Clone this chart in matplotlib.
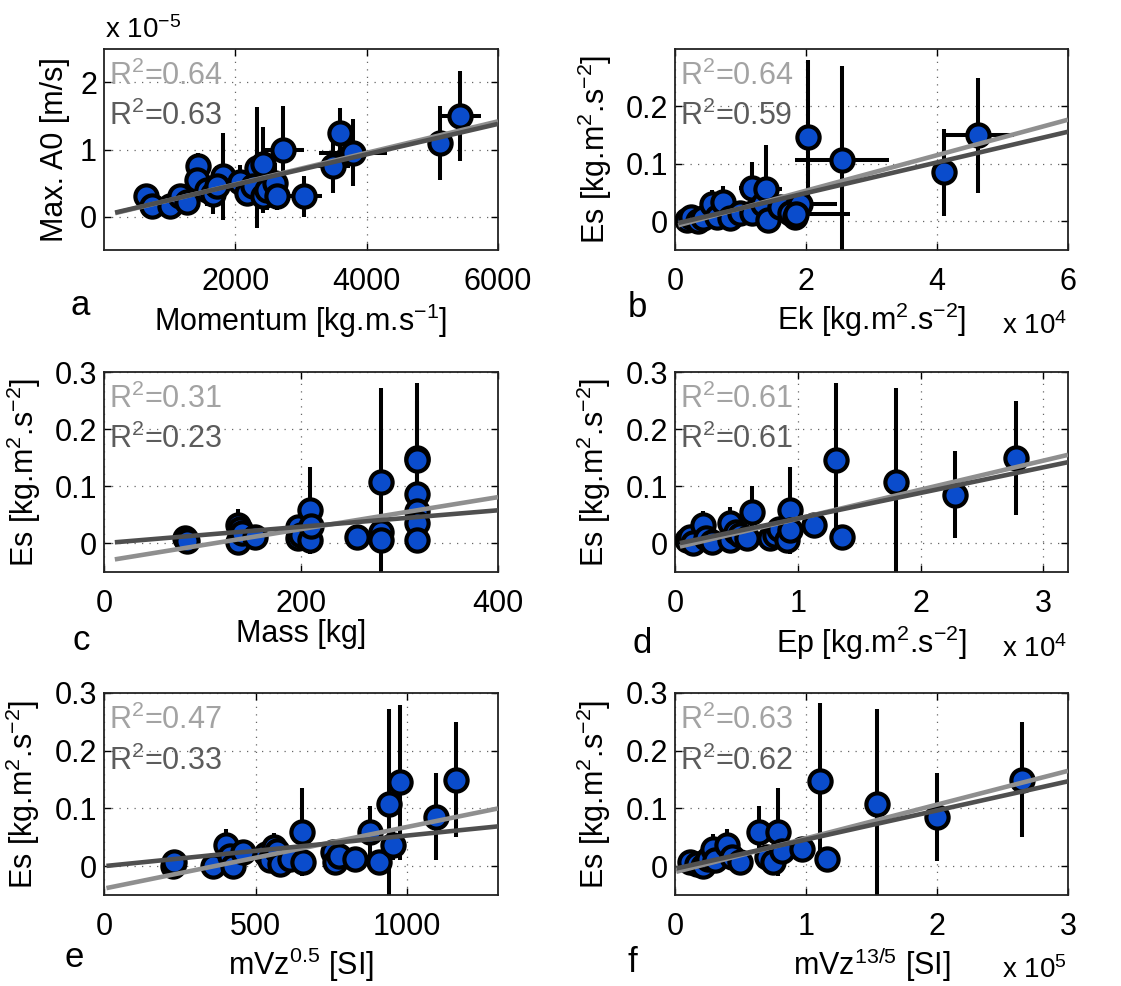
import numpy as np
import matplotlib
matplotlib.use('Agg')
import matplotlib.pyplot as plt
from matplotlib.ticker import FuncFormatter, FixedLocator

plt.rcParams['font.family'] = ['Liberation Sans', 'DejaVu Sans']
plt.rcParams['mathtext.fontset'] = 'custom'
plt.rcParams['mathtext.rm'] = 'Liberation Sans'
plt.rcParams['mathtext.it'] = 'Liberation Sans:italic'
plt.rcParams['mathtext.default'] = 'rm'

# ---------------- data ----------------
# panel a : Momentum vs Max. A0
a_momentum = [640, 730, 1005, 1160, 1260, 1430, 1415, 1570, 1660, 1810, 1720, 2070, 2180,
              2330, 2420, 2270, 2420, 2480, 2600, 2630, 2730, 3045, 3490, 3590, 3790, 5120, 5420]
a_momentum_err = [0, 0, 0, 150, 0, 100, 150, 0, 0, 0, 0, 150, 0,
                  0, 150, 0, 0, 0, 0, 0, 320, 280, 250, 0, 520, 0, 320]
a_maxA0 = np.array([0.30, 0.15, 0.15, 0.30, 0.22, 0.75, 0.55, 0.40, 0.33, 0.60, 0.45, 0.52, 0.35,
                    0.73, 0.78, 0.45, 0.30, 0.40, 0.50, 0.30, 1.00, 0.30, 0.75, 1.25, 0.95, 1.10, 1.50]) * 1e-5
a_maxA0_err = np.array([0.10, 0.10, 0.10, 0.12, 0.15, 0.20, 0.20, 0.25, 0.30, 0.65, 0.30, 0.25, 0.20,
                        0.90, 0.55, 0.20, 0.25, 0.30, 0.30, 0.20, 0.65, 0.30, 0.40, 0.37, 0.50, 0.55, 0.67]) * 1e-5

# panel b : Ek vs Es
b_ek = [1800, 2500, 3500, 4200, 5600, 6400, 7300, 8400, 9900, 11800, 11800, 13400, 13900, 14200,
        16000, 17500, 18300, 19100, 18500, 20300, 25500, 41100, 46300]
b_ek_err = [0, 0, 0, 0, 1000, 0, 0, 0, 0, 2000, 0, 0, 2500, 0,
            0, 0, 0, 5600, 8200, 0, 7200, 0, 5500]
b_es = [0.002, 0.008, 0.000, 0.005, 0.030, 0.008, 0.034, 0.006, 0.014, 0.058, 0.014, 0.030, 0.057, 0.002,
        0.025, 0.014, 0.008, 0.030, 0.012, 0.146, 0.106, 0.085, 0.150]
b_es_err = [0.008, 0.010, 0.008, 0.010, 0.025, 0.010, 0.028, 0.010, 0.012, 0.046, 0.010, 0.020, 0.076, 0.010,
            0.015, 0.010, 0.010, 0.020, 0.010, 0.135, 0.165, 0.076, 0.100]

# panel c : Mass vs Es
c_mass = [82, 84, 136, 138, 138, 136, 140, 153, 197, 197, 200, 209, 209, 210,
          257, 281, 281, 281, 318, 318, 318, 318, 318, 318]
c_es = [0.010, 0.004, 0.033, 0.025, 0.012, 0.002, 0.018, 0.012, 0.029, 0.010, 0.015, 0.058, 0.006, 0.030,
        0.012, 0.107, 0.020, 0.006, 0.150, 0.146, 0.086, 0.057, 0.035, 0.006]
c_es_err = [0.010, 0.010, 0.028, 0.015, 0.010, 0.010, 0.015, 0.010, 0.020, 0.010, 0.015, 0.076, 0.010, 0.020,
            0.010, 0.165, 0.015, 0.010, 0.100, 0.135, 0.076, 0.046, 0.020, 0.010]

# panel d : Ep vs Es
d_ep = [950, 1200, 1500, 2300, 2500, 3000, 4500, 4500, 5000, 5300, 5850, 6260, 7760, 8160,
        8500, 9100, 9400, 9400, 11300, 13100, 13600, 18000, 22800, 27800]
d_es = [0.006, 0.012, 0.000, 0.032, 0.010, 0.003, 0.035, 0.006, 0.020, 0.015, 0.009, 0.055, 0.009, 0.015,
        0.025, 0.006, 0.058, 0.024, 0.032, 0.146, 0.012, 0.107, 0.085, 0.150]
d_es_err = [0.010, 0.010, 0.010, 0.025, 0.010, 0.010, 0.028, 0.010, 0.015, 0.010, 0.010, 0.046, 0.010, 0.015,
            0.015, 0.010, 0.076, 0.020, 0.020, 0.135, 0.010, 0.165, 0.076, 0.100]

# panel e : mVz^0.5 vs Es
e_mvz = [228, 232, 360, 404, 415, 426, 459, 536, 548, 560, 570, 581, 614, 652, 658,
         757, 762, 775, 829, 878, 906, 939, 955, 977, 1095, 1161]
e_es = [0.001, 0.007, 0.000, 0.036, 0.018, 0.001, 0.024, 0.021, 0.010, 0.033, 0.027, 0.004, 0.013, 0.059, 0.007,
        0.024, 0.007, 0.018, 0.013, 0.059, 0.007, 0.108, 0.036, 0.145, 0.086, 0.150]
e_es_err = [0.008, 0.010, 0.010, 0.028, 0.015, 0.010, 0.020, 0.020, 0.010, 0.025, 0.020, 0.010, 0.010, 0.076, 0.015,
            0.015, 0.010, 0.010, 0.010, 0.046, 0.010, 0.165, 0.025, 0.135, 0.076, 0.100]

# panel f : mVz^(13/5) vs Es
f_mvz = [11500, 16600, 21700, 25000, 29300, 30600, 39500, 43400, 49700, 63800, 70000, 75000,
         79000, 81600, 97000, 111000, 116000, 154000, 200000, 265000]
f_es = [0.007, 0.004, 0.001, 0.012, 0.030, 0.010, 0.036, 0.016, 0.007, 0.059, 0.016, 0.007,
        0.059, 0.027, 0.030, 0.147, 0.012, 0.107, 0.085, 0.150]
f_es_err = [0.010, 0.010, 0.010, 0.010, 0.025, 0.010, 0.028, 0.015, 0.010, 0.046, 0.015, 0.010,
            0.076, 0.020, 0.020, 0.135, 0.010, 0.165, 0.076, 0.100]

# regression lines: (x_start, x_end, intercept, slope) for light and dark fits
a_fit_light = (170, 6000, 0.01e-5, 2.35e-4 * 1e-5)
a_fit_dark = (170, 6000, 0.02e-5, 2.27e-4 * 1e-5)
b_fit_light = (500, 60000, -0.0085, 3.09e-6)
b_fit_dark = (500, 60000, -0.0043, 2.67e-6)
c_fit_light = (11, 400, -0.031, 2.80e-4)
c_fit_dark = (11, 400, 0.0004, 1.44e-4)
d_fit_light = (400, 32000, -0.0075, 5.08e-6)
d_fit_dark = (400, 32000, -0.0012, 4.48e-6)
e_fit_light = (8, 1300, -0.0389, 1.068e-4)
e_fit_dark = (8, 1300, 0.0, 5.3e-5)
f_fit_light = (1000, 300000, -0.0104, 5.85e-7)
f_fit_dark = (1000, 300000, -0.0045, 5.05e-7)

r2_light = ['0.64', '0.64', '0.31', '0.61', '0.47', '0.63']
r2_dark = ['0.63', '0.59', '0.23', '0.61', '0.33', '0.62']

# ---------------- styling ----------------
BLUE = '#0a4ccc'
LINE_LIGHT = '#8f8f8f'
LINE_DARK = '#4f4f4f'
TEXT_LIGHT = '#a3a3a3'
TEXT_DARK = '#5c5c5c'
FS = 22

W, H = 1121, 986
fig = plt.figure(figsize=(W / 100, H / 100), dpi=100)


def add_ax(l, t, w, h):
    return fig.add_axes([l / W, 1 - (t + h) / H, w / W, h / H])


def panel(ax, x, y, xerr, yerr, fits, xlim, ylim, xticks, yticks, xfmt=None, yfmt=None):
    ax.errorbar(x, y, xerr=xerr, yerr=yerr, fmt='none', ecolor='k', elinewidth=2.9,
                capsize=0, zorder=2)
    ax.plot(x, y, 'o', ms=16, mfc=BLUE, mec='k', mew=3.0, ls='none', zorder=3)
    for (x0, x1, b, m), col in zip(fits, [LINE_LIGHT, LINE_DARK]):
        xs = np.array([x0, x1], dtype=float)
        ax.plot(xs, b + m * xs, color=col, lw=3.3, solid_capstyle='butt', zorder=4)
    ax.set_xlim(*xlim)
    ax.set_ylim(*ylim)
    ax.xaxis.set_major_locator(FixedLocator(xticks))
    ax.yaxis.set_major_locator(FixedLocator(yticks))
    if xfmt:
        ax.xaxis.set_major_formatter(FuncFormatter(xfmt))
    else:
        ax.xaxis.set_major_formatter(FuncFormatter(lambda v, p: f'{v:g}'))
    if yfmt:
        ax.yaxis.set_major_formatter(FuncFormatter(yfmt))
    else:
        ax.yaxis.set_major_formatter(FuncFormatter(lambda v, p: f'{v:g}'))
    ax.grid(True, ls=(0, (1, 5)), color='k', lw=0.9, alpha=0.6)
    ax.set_axisbelow(True)
    ax.tick_params(direction='in', length=5, width=1, labelsize=FS, top=True, right=True)
    ax.tick_params(axis='x', pad=12)
    ax.tick_params(axis='y', pad=5)
    for s in ax.spines.values():
        s.set_linewidth(1.3)
        s.set_color('#222222')


def r2_text(ax, light, dark):
    ax.text(0.012, 0.82, f'R$^2$={light}', transform=ax.transAxes, color=TEXT_LIGHT,
            fontsize=FS, va='baseline', ha='left', zorder=5)
    ax.text(0.012, 0.62, f'R$^2$={dark}', transform=ax.transAxes, color=TEXT_DARK,
            fontsize=FS, va='baseline', ha='left', zorder=5)


def xlabel(ax, text, y):
    ax.text(0.5, y, text, transform=ax.transAxes, ha='center', va='baseline', fontsize=FS)


def ylabel(ax, text, x):
    ax.set_ylabel(text, fontsize=FS)
    ax.yaxis.set_label_coords(x, 0.5)


def ftext(px, py, s, size, **kw):
    fig.text(px / W, 1 - py / H, s, fontsize=size, va='baseline', ha='left', **kw)


ES_LABEL = 'Es [kg.m$^2$.s$^{-2}$]'
e4 = lambda v, p: f'{v / 1e4:g}'
e5 = lambda v, p: f'{v / 1e5:g}'

# a
axa = add_ax(104, 49, 394, 201)
panel(axa, a_momentum, a_maxA0, a_momentum_err, a_maxA0_err, [a_fit_light, a_fit_dark],
      (0, 6000), (-0.5e-5, 2.5e-5), [2000, 4000, 6000], [0, 1e-5, 2e-5],
      yfmt=lambda v, p: f'{v / 1e-5:g}')
r2_text(axa, r2_light[0], r2_dark[0])
xlabel(axa, 'Momentum [kg.m.s$^{-1}$]', -0.403)
ylabel(axa, 'Max. A0 [m/s]', -0.086)

# b
axb = add_ax(675, 49, 393, 201)
panel(axb, b_ek, b_es, b_ek_err, b_es_err, [b_fit_light, b_fit_dark],
      (0, 60000), (-0.05, 0.3), [0, 20000, 40000, 60000], [0, 0.1, 0.2], xfmt=e4)
r2_text(axb, r2_light[1], r2_dark[1])
xlabel(axb, 'Ek [kg.m$^2$.s$^{-2}$]', -0.398)
ylabel(axb, ES_LABEL, -0.155)

# c
axc = add_ax(104, 372, 394, 200)
panel(axc, c_mass, c_es, None, c_es_err, [c_fit_light, c_fit_dark],
      (0, 400), (-0.05, 0.3), [0, 200, 400], [0, 0.1, 0.2, 0.3])
r2_text(axc, r2_light[2], r2_dark[2])
xlabel(axc, 'Mass [kg]', -0.35)
ylabel(axc, ES_LABEL, -0.154)

# d
axd = add_ax(675, 372, 393, 200)
panel(axd, d_ep, d_es, None, d_es_err, [d_fit_light, d_fit_dark],
      (0, 32000), (-0.05, 0.3), [0, 10000, 20000, 30000], [0, 0.1, 0.2, 0.3], xfmt=e4)
r2_text(axd, r2_light[3], r2_dark[3])
xlabel(axd, 'Ep [kg.m$^2$.s$^{-2}$]', -0.405)
ylabel(axd, ES_LABEL, -0.158)

# e
axe = add_ax(104, 693, 394, 202)
panel(axe, e_mvz, e_es, None, e_es_err, [e_fit_light, e_fit_dark],
      (0, 1300), (-0.05, 0.3), [0, 500, 1000], [0, 0.1, 0.2, 0.3])
r2_text(axe, r2_light[4], r2_dark[4])
xlabel(axe, 'mVz$^{0.5}$ [SI]', -0.396)
ylabel(axe, ES_LABEL, -0.157)

# f
axf = add_ax(675, 693, 393, 202)
panel(axf, f_mvz, f_es, None, f_es_err, [f_fit_light, f_fit_dark],
      (0, 300000), (-0.05, 0.3), [0, 100000, 200000, 300000], [0, 0.1, 0.2, 0.3], xfmt=e5)
r2_text(axf, r2_light[5], r2_dark[5])
xlabel(axf, 'mVz$^{13/5}$ [SI]', -0.396)
ylabel(axf, ES_LABEL, -0.158)

# offset texts
ftext(105, 38, 'x 10$^{-5}$', 20)
ftext(1002, 334, 'x 10$^{4}$', 20)
ftext(1002, 657, 'x 10$^{4}$', 20)
ftext(1002, 978, 'x 10$^{5}$', 20)

# panel letters
for px, py, s in [(70, 315, 'a'), (628, 317, 'b'), (73, 650, 'c'),
                  (632, 653, 'd'), (65, 967, 'e'), (627, 972, 'f')]:
    ftext(px, py, s, 25)

fig.savefig('out.png', dpi=100)
